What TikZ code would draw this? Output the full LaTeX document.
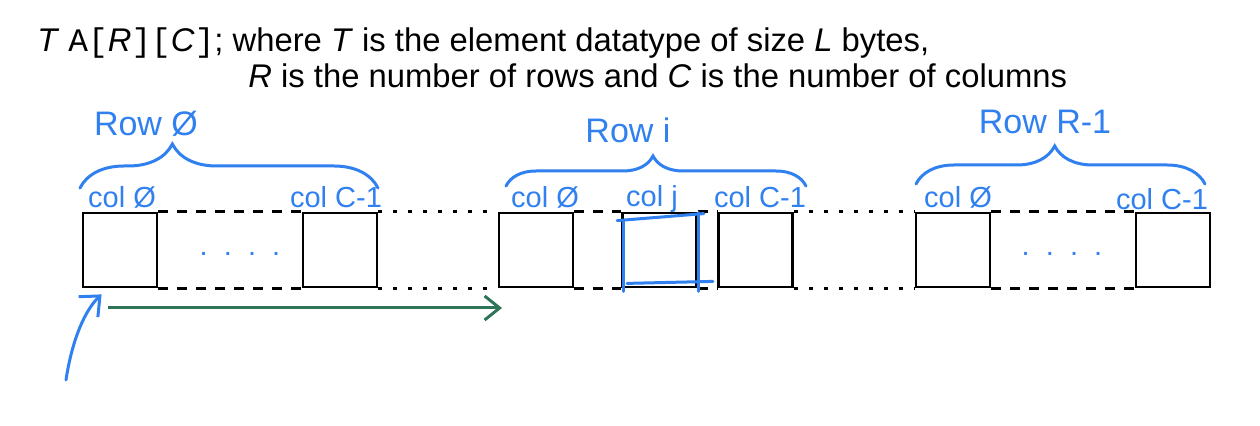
\documentclass[tikz,border=0pt]{standalone}
\usepackage{fontspec}
\setmainfont{Liberation Sans}
\setmonofont{Liberation Mono}
\usetikzlibrary{arrows.meta, positioning, decorations.pathreplacing, calc}
\definecolor{inkblue}{RGB}{48,128,240}
\definecolor{inkgreen}{RGB}{46,116,86}
\tikzstyle{cell}     = [rectangle, draw=black, line width=1.4pt, minimum size=37pt, inner sep=0pt]
\tikzstyle{gapdash}  = [line width=1.4pt, dash pattern=on 5pt off 4.5pt]
\tikzstyle{gapdot}   = [line width=1.4pt, dash pattern=on 2pt off 5.5pt]
\tikzstyle{ink}      = [text=inkblue, inner sep=0pt, font=\fontsize{14.5}{17}\selectfont]
\tikzstyle{inkbig}   = [text=inkblue, inner sep=0pt, font=\fontsize{17}{20}\selectfont]
\tikzstyle{inkline}  = [draw=inkblue, line width=1.5pt, line cap=round]
\tikzstyle{rowbrace} = [inkline, decorate]
\tikzstyle{title}    = [anchor=base west, inner sep=0pt, font=\fontsize{16.4}{19}\selectfont]

\begin{document}
\begin{tikzpicture}[x=0.5pt, y=-0.5pt]
  \useasboundingbox (0,0) rectangle (1260,426);

  % Declaration text
  \node[title] (decl) at (37,52) {\textit{T} \texttt{A[}\textit{R}\texttt{][}\textit{C}\texttt{]}; where \textit{T} is the element datatype of size \textit{L} bytes,};
  \node[title] (dims) at (248,88) {\textit{R} is the number of rows and \textit{C} is the number of columns};

  % Cells of the flattened array
  \node[cell] (c0) at (120,250) {};
  \node[cell] (c1) at (340,250) {};
  \node[cell] (c2) at (536,250) {};
  \node[cell] (c3) at (659.5,250) {};
  \node[cell] (c4) at (755.5,250) {};
  \node[cell] (c5) at (953,250) {};
  \node[cell] (c6) at (1173,250) {};

  % Gaps between cells
  \foreach \a/\b/\s in {c0/c1/gapdash, c1/c2/gapdot, c2/c3/gapdash, c3/c4/gapdash, c4/c5/gapdot, c5/c6/gapdash} {
    \draw[\s] (\a.north east) -- (\b.north west);
    \draw[\s] (\a.south east) -- (\b.south west);
  }

  % Hand-written dots
  \node[ink] (dots0) at (240,254) {.\ \ .\ \ .\ \ .};
  \node[ink] (dots5) at (1062,254) {.\ \ .\ \ .\ \ .};

  % Row braces
  \coordinate (r0a) at (80,188);   \coordinate (r0b) at (378,188);
  \coordinate (ria) at (506,186);  \coordinate (rib) at (806,186);
  \coordinate (rla) at (916,184);  \coordinate (rlb) at (1205,184);
  \draw[rowbrace, decoration={brace, amplitude=22pt, aspect=0.31}] (r0a) -- (r0b);
  \draw[rowbrace, decoration={brace, amplitude=15pt, aspect=0.49}] (ria) -- (rib);
  \draw[rowbrace, decoration={brace, amplitude=19pt, aspect=0.48}] (rla) -- (rlb);
  \node[inkbig] (row0) at (146,124) {Row Ø};
  \node[inkbig] (rowi) at (628,130) {Row i};
  \node[inkbig] (rowl) at (1045,122) {Row R-1};

  % Column labels
  \node[ink] (k0) at (122,197) {col Ø};
  \node[ink] (k1) at (336,197) {col C-1};
  \node[ink] (k2) at (545,197) {col Ø};
  \node[ink] (k3) at (652,199) {col j};
  \node[ink] (k4) at (760,197) {col C-1};
  \node[ink] (k5) at (958,197) {col Ø};
  \node[ink] (k6) at (1162,199) {col C-1};

  % Highlight of col j
  \draw[inkline] ([shift={(-4,9)}]c3.north west) -- ([shift={(6,2)}]c3.north east);
  \draw[inkline] ([shift={(2,9)}]c3.north west) -- ([shift={(2,3)}]c3.south west);
  \draw[inkline] ([shift={(1,1)}]c3.north east) -- ([shift={(1,3)}]c3.south east);
  \draw[inkline] ([shift={(6,-5)}]c3.south west) -- ([shift={(15,-7)}]c3.south east);

  % Address pointer and stride
  \coordinate (ptail) at (66,380);
  \coordinate (gstart) at (108,308);
  \coordinate (gend) at (502,308);
  \draw[inkline, -{Straight Barb[length=8pt, width=14pt]}] (ptail) .. controls (72,340) and (85,310) .. ([shift={(20,6)}]c0.south west);
  \draw[draw=inkgreen, line width=1.5pt, -{Straight Barb[length=7.5pt, width=12pt]}] (gstart) -- (gend);
\end{tikzpicture}
\end{document}
